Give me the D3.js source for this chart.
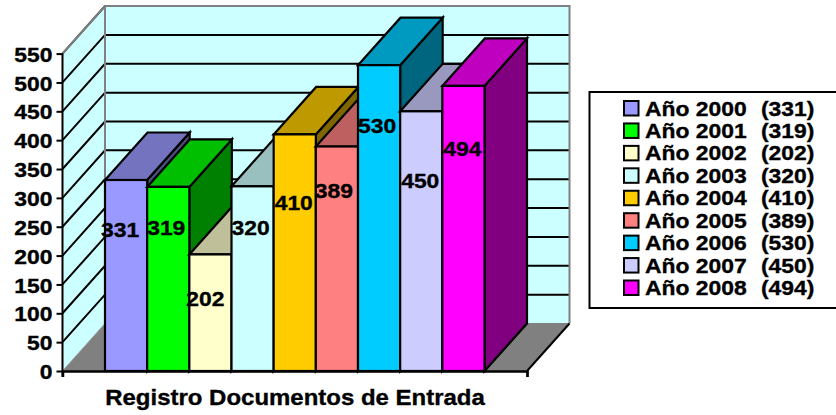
<!DOCTYPE html>
<html><head><meta charset="utf-8">
<style>html,body{margin:0;padding:0;background:#fff;overflow:hidden}svg{display:block}text{font-family:"Liberation Sans",Arial,sans-serif;font-weight:bold;fill:#000;stroke:#000;stroke-width:.35px}</style>
<script src="https://cdn.jsdelivr.net/npm/d3@7/dist/d3.min.js"></script>
</head><body><svg id="c" width="836" height="415"></svg>
<script>
const categories=["Año 2000","Año 2001","Año 2002","Año 2003","Año 2004","Año 2005","Año 2006","Año 2007","Año 2008"];
const values=[331,319,202,320,410,389,530,450,494];
const colors=["#9999FF","#00FF00","#FFFFCC","#CCFFFF","#FFCC00","#FF8080","#00CCFF","#CCCCFF","#FF00FF"];
const yTicks=[0,50,100,150,200,250,300,350,400,450,500,550];
const chartTitle="Registro Documentos de Entrada";
// data-label anchor heights, in axis units (the source chart places them irregularly)
const labelLevels=[245,249,126,248,292,313,426,330,386];
const labelShift=[-6,-2,-5,-2,-1,-3,-2,-1,-1];

const svg=d3.select("#c");
const dx=42.5,dy=-47.5;
const y=d3.scaleLinear().domain([0,550]).range([371,53.6]);
const xOuter=[62.5,527];
const x=d3.scaleBand().domain(categories).range([xOuter[0]+dx,xOuter[1]-dx]);
const poly=p=>p.map(d=>d.join(",")).join(" ");
const y0=y(0),yMax=y(550);
const SX=1.09;
// text drawn slightly wide, as in the source rendering
const label=(tx,ty,s,size,anchor)=>svg.append("text").attr("transform",`translate(${tx},${ty}) scale(${SX},1)`).attr("dy","0.36em").attr("text-anchor",anchor||"start").attr("font-size",size).text(s);

// walls and floor
svg.append("polygon").attr("points",poly([[xOuter[0]+dx,yMax+dy],[xOuter[1]+dx,yMax+dy],[xOuter[1]+dx,y0+dy],[xOuter[0]+dx,y0+dy]])).attr("fill","#CCFFFF");
svg.append("polygon").attr("points",poly([[xOuter[0],yMax],[xOuter[0]+dx,yMax+dy],[xOuter[0]+dx,y0+dy],[xOuter[0],y0]])).attr("fill","#CCFFFF");
svg.append("polygon").attr("points",poly([[xOuter[0],y0],[xOuter[0]+dx,y0+dy],[xOuter[1]+dx,y0+dy],[xOuter[1],y0]])).attr("fill","#808080");

// gridlines
const gl=svg.append("g").attr("stroke","#000").attr("stroke-width",2).attr("fill","none");
yTicks.filter(t=>t>0).forEach(t=>{
  gl.append("polyline").attr("points",poly([[xOuter[0],y(t)],[xOuter[0]+dx,y(t)+dy],[xOuter[1]+dx,y(t)+dy]]));
});
// wall outline
svg.append("polyline").attr("points",poly([[xOuter[0],yMax],[xOuter[0]+dx,yMax+dy],[xOuter[1]+dx,yMax+dy],[xOuter[1]+dx,y0+dy]])).attr("fill","none").attr("stroke","#808080").attr("stroke-width",2);
svg.append("line").attr("x1",xOuter[0]+dx).attr("x2",xOuter[0]+dx).attr("y1",yMax+dy).attr("y2",y0+dy).attr("stroke","#808080").attr("stroke-width",2);
svg.append("line").attr("x1",xOuter[0]).attr("y1",y0).attr("x2",xOuter[0]+dx).attr("y2",y0+dy).attr("stroke","#999").attr("stroke-width",1);
svg.append("line").attr("x1",xOuter[0]+dx).attr("y1",y0+dy).attr("x2",xOuter[1]+dx).attr("y2",y0+dy).attr("stroke","#808080").attr("stroke-width",1);
svg.append("line").attr("x1",xOuter[1]).attr("y1",y0).attr("x2",xOuter[1]+dx).attr("y2",y0+dy).attr("stroke","#000").attr("stroke-width",2);

// bars, painted left to right
const shade=(c,k)=>{const r=d3.rgb(c);return d3.rgb(r.r*k,r.g*k,r.b*k).formatHex();};
const bars=svg.append("g").attr("stroke","#000").attr("stroke-width",2.2).attr("stroke-linejoin","miter");
categories.forEach((c,i)=>{
  const a=x(c),b=a+x.bandwidth(),t=y(values[i]);
  const g=bars.append("g");
  g.append("polygon").attr("points",poly([[b,t],[b+dx,t+dy],[b+dx,y0+dy],[b,y0]])).attr("fill",shade(colors[i],0.5));
  g.append("polygon").attr("points",poly([[a,t],[a+dx,t+dy],[b+dx,t+dy],[b,t]])).attr("fill",shade(colors[i],0.75));
  g.append("rect").attr("x",a).attr("y",t).attr("width",x.bandwidth()).attr("height",y0-t).attr("fill",colors[i]);
});

// y axis
const ax=svg.append("g").attr("transform",`translate(${xOuter[0]},0)`).call(d3.axisLeft(y).tickValues(yTicks).tickSize(6).tickPadding(4).tickFormat(d3.format("d")));
ax.select(".domain").attr("stroke","#000").attr("stroke-width",2).attr("d",`M0,${yMax}V${y0+6}`);
ax.selectAll(".tick line").attr("stroke","#000").attr("stroke-width",2);
ax.selectAll(".tick text").attr("font-size",21).attr("font-family",'"Liberation Sans",Arial,sans-serif').attr("font-weight","bold").attr("dy","0.36em").attr("fill","#000").attr("x",-10/SX).attr("transform",`scale(${SX},1)`);

// x axis
const xa=d3.scaleLinear().domain([0,1]).range(xOuter);
const axb=svg.append("g").attr("transform",`translate(0,${y0})`).call(d3.axisBottom(xa).tickValues([0,1]).tickSize(6).tickFormat(""));
axb.select(".domain").attr("stroke","#000").attr("stroke-width",2.5);
axb.selectAll(".tick line").attr("stroke","#000").attr("stroke-width",2);

// data labels
categories.forEach((c,i)=>{
  label(x(c)+x.bandwidth()/2+labelShift[i],y(labelLevels[i]),values[i],21,"middle");
});

svg.append("text").attr("transform",`translate(295,405) scale(${SX},1)`).attr("text-anchor","middle").attr("font-size",22).text(chartTitle);

// legend
svg.append("rect").attr("x",589.5).attr("y",92).attr("width",260).attr("height",216).attr("fill","#fff").attr("stroke","#000").attr("stroke-width",2);
const ly=d3.scalePoint().domain(categories).range([108,287.5]);
categories.forEach((c,i)=>{
  const yy=ly(c);
  svg.append("rect").attr("x",624).attr("y",yy-7).attr("width",14.5).attr("height",14.5).attr("fill",colors[i]).attr("stroke","#000").attr("stroke-width",2);
  label(645,yy,c,21);
  label(761,yy,"("+values[i]+")",21);
});
</script></body></html>
